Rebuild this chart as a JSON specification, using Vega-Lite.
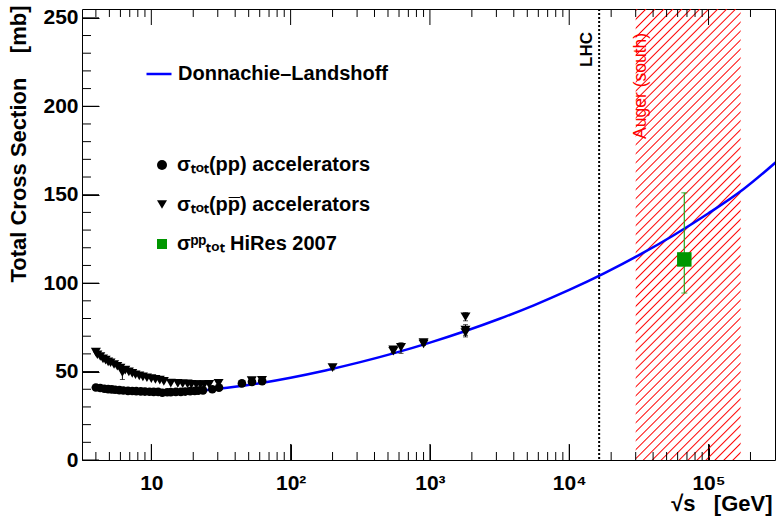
{
  "$schema": "https://vega.github.io/schema/vega-lite/v6.json",
  "width": 693,
  "height": 451,
  "autosize": {"type": "none"},
  "padding": {"left": 82, "top": 9, "right": 2, "bottom": 57},
  "background": "white",
  "config": {
    "font": "Liberation Sans",
    "view": {"stroke": "black", "strokeWidth": 1},
    "axis": {
      "grid": false, "domain": false, "ticks": true, "tickColor": "black", "tickWidth": 1, "tickOpacity": 1,
      "labelColor": "black", "titleColor": "black", "labelFont": "Liberation Sans", "titleFont": "Liberation Sans",
      "labelFontWeight": "bold", "titleFontWeight": "bold", "labelFontSize": 21, "titleFontSize": 22,
      "labelOverlap": false, "labelFlush": false, "labelBound": false, "zindex": 1
    }
  },
  "datasets": {
    "points": [
      {"s": 4.0, "sigma": 41.0, "series": "pp"}, {"s": 4.3, "sigma": 40.7, "series": "pp"}, {"s": 4.6, "sigma": 40.3, "series": "pp"},
      {"s": 4.9, "sigma": 40.1, "series": "pp"}, {"s": 5.2, "sigma": 39.9, "series": "pp"}, {"s": 5.5, "sigma": 39.7, "series": "pp"},
      {"s": 5.9, "sigma": 39.5, "series": "pp"}, {"s": 6.3, "sigma": 39.3, "series": "pp"}, {"s": 6.8, "sigma": 39.1, "series": "pp"},
      {"s": 7.3, "sigma": 39.0, "series": "pp"}, {"s": 7.8, "sigma": 38.9, "series": "pp"}, {"s": 8.4, "sigma": 38.8, "series": "pp"},
      {"s": 9.0, "sigma": 38.7, "series": "pp"}, {"s": 9.7, "sigma": 38.6, "series": "pp"}, {"s": 10.4, "sigma": 38.5, "series": "pp"},
      {"s": 11.2, "sigma": 38.5, "series": "pp"}, {"s": 12.0, "sigma": 38.0, "series": "pp"}, {"s": 13.0, "sigma": 38.3, "series": "pp"},
      {"s": 13.8, "sigma": 38.4, "series": "pp"}, {"s": 15.0, "sigma": 38.5, "series": "pp"}, {"s": 16.3, "sigma": 38.5, "series": "pp"},
      {"s": 17.5, "sigma": 38.7, "series": "pp"}, {"s": 19.0, "sigma": 38.9, "series": "pp"}, {"s": 20.5, "sigma": 39.1, "series": "pp"},
      {"s": 21.7, "sigma": 39.2, "series": "pp"}, {"s": 23.5, "sigma": 39.4, "series": "pp"}, {"s": 27.4, "sigma": 40.0, "series": "pp"},
      {"s": 30.6, "sigma": 40.9, "series": "pp"}, {"s": 44.7, "sigma": 43.3, "series": "pp"}, {"s": 52.8, "sigma": 44.2, "series": "pp"},
      {"s": 62.5, "sigma": 44.6, "series": "pp"},
      {"s": 4.0, "sigma": 61.0, "series": "pbar"}, {"s": 4.1, "sigma": 59.5, "series": "pbar"}, {"s": 4.3, "sigma": 58.5, "series": "pbar"},
      {"s": 4.5, "sigma": 57.2, "series": "pbar"}, {"s": 4.7, "sigma": 56.5, "series": "pbar"}, {"s": 4.9, "sigma": 55.5, "series": "pbar"},
      {"s": 5.1, "sigma": 55.0, "series": "pbar"}, {"s": 5.4, "sigma": 54.0, "series": "pbar"}, {"s": 5.7, "sigma": 53.0, "series": "pbar"},
      {"s": 6.0, "sigma": 52.0, "series": "pbar"}, {"s": 6.2, "sigma": 49.5, "lo": 45.5, "hi": 52.0, "series": "pbar"},
      {"s": 6.5, "sigma": 50.8, "series": "pbar"}, {"s": 6.9, "sigma": 49.8, "series": "pbar"}, {"s": 7.3, "sigma": 49.0, "series": "pbar"},
      {"s": 7.7, "sigma": 48.2, "series": "pbar"}, {"s": 8.2, "sigma": 47.6, "series": "pbar"}, {"s": 8.7, "sigma": 47.0, "series": "pbar"},
      {"s": 9.3, "sigma": 46.5, "series": "pbar"}, {"s": 10.0, "sigma": 46.0, "series": "pbar"}, {"s": 10.7, "sigma": 45.6, "series": "pbar"},
      {"s": 11.5, "sigma": 45.2, "series": "pbar"}, {"s": 12.3, "sigma": 44.5, "series": "pbar"}, {"s": 13.8, "sigma": 43.5, "series": "pbar"},
      {"s": 15.5, "sigma": 43.3, "series": "pbar"}, {"s": 16.8, "sigma": 43.1, "series": "pbar"}, {"s": 18.2, "sigma": 43.0, "series": "pbar"},
      {"s": 19.4, "sigma": 42.8, "series": "pbar"}, {"s": 21.0, "sigma": 42.7, "series": "pbar"}, {"s": 22.5, "sigma": 42.6, "series": "pbar"},
      {"s": 24.0, "sigma": 42.6, "series": "pbar"}, {"s": 26.0, "sigma": 42.8, "series": "pbar"}, {"s": 30.4, "sigma": 43.4, "series": "pbar"},
      {"s": 52.6, "sigma": 44.9, "series": "pbar"}, {"s": 62.3, "sigma": 45.1, "series": "pbar"},
      {"s": 200, "sigma": 52.2, "lo": 51.0, "hi": 53.4, "series": "pbar"},
      {"s": 546, "sigma": 62.3, "lo": 60.8, "hi": 63.8, "series": "pbar"},
      {"s": 546, "sigma": 61.5, "lo": 60.5, "hi": 62.5, "series": "pbar"},
      {"s": 620, "sigma": 63.7, "lo": 60.3, "hi": 66.3, "series": "pbar"},
      {"s": 900, "sigma": 66.4, "lo": 65.0, "hi": 67.8, "series": "pbar"},
      {"s": 900, "sigma": 65.6, "lo": 64.9, "hi": 66.3, "series": "pbar"},
      {"s": 1800, "sigma": 81.0, "lo": 78.7, "hi": 83.3, "series": "pbar"},
      {"s": 1800, "sigma": 73.5, "lo": 70.5, "hi": 76.5, "series": "pbar"},
      {"s": 1800, "sigma": 72.0, "lo": 69.6, "hi": 74.4, "series": "pbar"},
      {"s": 67000, "sigma": 113.4, "lo": 94.4, "hi": 151.1, "series": "hires"}
    ],
    "dl": [
      {"s": 10, "sigma": 38.46, "model": "DL"}, {"s": 15.85, "sigma": 38.51, "model": "DL"}, {"s": 25.12, "sigma": 39.57, "model": "DL"},
      {"s": 39.81, "sigma": 41.36, "model": "DL"}, {"s": 63.1, "sigma": 43.72, "model": "DL"}, {"s": 100, "sigma": 46.55, "model": "DL"},
      {"s": 177.8, "sigma": 50.64, "model": "DL"}, {"s": 316.2, "sigma": 55.32, "model": "DL"}, {"s": 562.3, "sigma": 60.56, "model": "DL"},
      {"s": 1000, "sigma": 66.37, "model": "DL"}, {"s": 1778, "sigma": 72.78, "model": "DL"}, {"s": 3162, "sigma": 79.86, "model": "DL"},
      {"s": 5623, "sigma": 87.61, "model": "DL"}, {"s": 10000, "sigma": 96.14, "model": "DL"}, {"s": 17783, "sigma": 105.5, "model": "DL"},
      {"s": 31623, "sigma": 115.8, "model": "DL"}, {"s": 56234, "sigma": 127.1, "model": "DL"}, {"s": 100000, "sigma": 139.5, "model": "DL"},
      {"s": 177828, "sigma": 153.1, "model": "DL"}, {"s": 316228, "sigma": 169.5, "model": "DL"}
    ]
  },
  "layer": [
    {
      "data": {"values": [{"s0": 30000, "s1": 170000}]},
      "mark": {
        "type": "rect",
        "fill": {
          "gradient": "linear", "x1": 0, "y1": 0, "x2": 0.272, "y2": 1.1693,
          "stops": [
            {"offset": 0, "color": "rgba(255,0,0,0)"}, {"offset": 0.0025, "color": "#ff0000"}, {"offset": 0.005, "color": "rgba(255,0,0,0)"},
            {"offset": 0.0161, "color": "rgba(255,0,0,0)"}, {"offset": 0.0186, "color": "#ff0000"}, {"offset": 0.0211, "color": "rgba(255,0,0,0)"},
            {"offset": 0.0323, "color": "rgba(255,0,0,0)"}, {"offset": 0.0348, "color": "#ff0000"}, {"offset": 0.0373, "color": "rgba(255,0,0,0)"},
            {"offset": 0.0484, "color": "rgba(255,0,0,0)"}, {"offset": 0.0509, "color": "#ff0000"}, {"offset": 0.0534, "color": "rgba(255,0,0,0)"},
            {"offset": 0.0645, "color": "rgba(255,0,0,0)"}, {"offset": 0.067, "color": "#ff0000"}, {"offset": 0.0695, "color": "rgba(255,0,0,0)"},
            {"offset": 0.0806, "color": "rgba(255,0,0,0)"}, {"offset": 0.0831, "color": "#ff0000"}, {"offset": 0.0856, "color": "rgba(255,0,0,0)"},
            {"offset": 0.0968, "color": "rgba(255,0,0,0)"}, {"offset": 0.0993, "color": "#ff0000"}, {"offset": 0.1018, "color": "rgba(255,0,0,0)"},
            {"offset": 0.1129, "color": "rgba(255,0,0,0)"}, {"offset": 0.1154, "color": "#ff0000"}, {"offset": 0.1179, "color": "rgba(255,0,0,0)"},
            {"offset": 0.129, "color": "rgba(255,0,0,0)"}, {"offset": 0.1315, "color": "#ff0000"}, {"offset": 0.134, "color": "rgba(255,0,0,0)"},
            {"offset": 0.1452, "color": "rgba(255,0,0,0)"}, {"offset": 0.1477, "color": "#ff0000"}, {"offset": 0.1502, "color": "rgba(255,0,0,0)"},
            {"offset": 0.1613, "color": "rgba(255,0,0,0)"}, {"offset": 0.1638, "color": "#ff0000"}, {"offset": 0.1663, "color": "rgba(255,0,0,0)"},
            {"offset": 0.1774, "color": "rgba(255,0,0,0)"}, {"offset": 0.1799, "color": "#ff0000"}, {"offset": 0.1824, "color": "rgba(255,0,0,0)"},
            {"offset": 0.1935, "color": "rgba(255,0,0,0)"}, {"offset": 0.196, "color": "#ff0000"}, {"offset": 0.1985, "color": "rgba(255,0,0,0)"},
            {"offset": 0.2097, "color": "rgba(255,0,0,0)"}, {"offset": 0.2122, "color": "#ff0000"}, {"offset": 0.2147, "color": "rgba(255,0,0,0)"},
            {"offset": 0.2258, "color": "rgba(255,0,0,0)"}, {"offset": 0.2283, "color": "#ff0000"}, {"offset": 0.2308, "color": "rgba(255,0,0,0)"},
            {"offset": 0.2419, "color": "rgba(255,0,0,0)"}, {"offset": 0.2444, "color": "#ff0000"}, {"offset": 0.2469, "color": "rgba(255,0,0,0)"},
            {"offset": 0.2581, "color": "rgba(255,0,0,0)"}, {"offset": 0.2606, "color": "#ff0000"}, {"offset": 0.2631, "color": "rgba(255,0,0,0)"},
            {"offset": 0.2742, "color": "rgba(255,0,0,0)"}, {"offset": 0.2767, "color": "#ff0000"}, {"offset": 0.2792, "color": "rgba(255,0,0,0)"},
            {"offset": 0.2903, "color": "rgba(255,0,0,0)"}, {"offset": 0.2928, "color": "#ff0000"}, {"offset": 0.2953, "color": "rgba(255,0,0,0)"},
            {"offset": 0.3065, "color": "rgba(255,0,0,0)"}, {"offset": 0.309, "color": "#ff0000"}, {"offset": 0.3115, "color": "rgba(255,0,0,0)"},
            {"offset": 0.3226, "color": "rgba(255,0,0,0)"}, {"offset": 0.3251, "color": "#ff0000"}, {"offset": 0.3276, "color": "rgba(255,0,0,0)"},
            {"offset": 0.3387, "color": "rgba(255,0,0,0)"}, {"offset": 0.3412, "color": "#ff0000"}, {"offset": 0.3437, "color": "rgba(255,0,0,0)"},
            {"offset": 0.3548, "color": "rgba(255,0,0,0)"}, {"offset": 0.3573, "color": "#ff0000"}, {"offset": 0.3598, "color": "rgba(255,0,0,0)"},
            {"offset": 0.371, "color": "rgba(255,0,0,0)"}, {"offset": 0.3735, "color": "#ff0000"}, {"offset": 0.376, "color": "rgba(255,0,0,0)"},
            {"offset": 0.3871, "color": "rgba(255,0,0,0)"}, {"offset": 0.3896, "color": "#ff0000"}, {"offset": 0.3921, "color": "rgba(255,0,0,0)"},
            {"offset": 0.4032, "color": "rgba(255,0,0,0)"}, {"offset": 0.4057, "color": "#ff0000"}, {"offset": 0.4082, "color": "rgba(255,0,0,0)"},
            {"offset": 0.4194, "color": "rgba(255,0,0,0)"}, {"offset": 0.4219, "color": "#ff0000"}, {"offset": 0.4244, "color": "rgba(255,0,0,0)"},
            {"offset": 0.4355, "color": "rgba(255,0,0,0)"}, {"offset": 0.438, "color": "#ff0000"}, {"offset": 0.4405, "color": "rgba(255,0,0,0)"},
            {"offset": 0.4516, "color": "rgba(255,0,0,0)"}, {"offset": 0.4541, "color": "#ff0000"}, {"offset": 0.4566, "color": "rgba(255,0,0,0)"},
            {"offset": 0.4677, "color": "rgba(255,0,0,0)"}, {"offset": 0.4702, "color": "#ff0000"}, {"offset": 0.4727, "color": "rgba(255,0,0,0)"},
            {"offset": 0.4839, "color": "rgba(255,0,0,0)"}, {"offset": 0.4864, "color": "#ff0000"}, {"offset": 0.4889, "color": "rgba(255,0,0,0)"},
            {"offset": 0.5, "color": "rgba(255,0,0,0)"}, {"offset": 0.5025, "color": "#ff0000"}, {"offset": 0.505, "color": "rgba(255,0,0,0)"},
            {"offset": 0.5161, "color": "rgba(255,0,0,0)"}, {"offset": 0.5186, "color": "#ff0000"}, {"offset": 0.5211, "color": "rgba(255,0,0,0)"},
            {"offset": 0.5323, "color": "rgba(255,0,0,0)"}, {"offset": 0.5348, "color": "#ff0000"}, {"offset": 0.5373, "color": "rgba(255,0,0,0)"},
            {"offset": 0.5484, "color": "rgba(255,0,0,0)"}, {"offset": 0.5509, "color": "#ff0000"}, {"offset": 0.5534, "color": "rgba(255,0,0,0)"},
            {"offset": 0.5645, "color": "rgba(255,0,0,0)"}, {"offset": 0.567, "color": "#ff0000"}, {"offset": 0.5695, "color": "rgba(255,0,0,0)"},
            {"offset": 0.5806, "color": "rgba(255,0,0,0)"}, {"offset": 0.5831, "color": "#ff0000"}, {"offset": 0.5856, "color": "rgba(255,0,0,0)"},
            {"offset": 0.5968, "color": "rgba(255,0,0,0)"}, {"offset": 0.5993, "color": "#ff0000"}, {"offset": 0.6018, "color": "rgba(255,0,0,0)"},
            {"offset": 0.6129, "color": "rgba(255,0,0,0)"}, {"offset": 0.6154, "color": "#ff0000"}, {"offset": 0.6179, "color": "rgba(255,0,0,0)"},
            {"offset": 0.629, "color": "rgba(255,0,0,0)"}, {"offset": 0.6315, "color": "#ff0000"}, {"offset": 0.634, "color": "rgba(255,0,0,0)"},
            {"offset": 0.6452, "color": "rgba(255,0,0,0)"}, {"offset": 0.6477, "color": "#ff0000"}, {"offset": 0.6502, "color": "rgba(255,0,0,0)"},
            {"offset": 0.6613, "color": "rgba(255,0,0,0)"}, {"offset": 0.6638, "color": "#ff0000"}, {"offset": 0.6663, "color": "rgba(255,0,0,0)"},
            {"offset": 0.6774, "color": "rgba(255,0,0,0)"}, {"offset": 0.6799, "color": "#ff0000"}, {"offset": 0.6824, "color": "rgba(255,0,0,0)"},
            {"offset": 0.6935, "color": "rgba(255,0,0,0)"}, {"offset": 0.696, "color": "#ff0000"}, {"offset": 0.6985, "color": "rgba(255,0,0,0)"},
            {"offset": 0.7097, "color": "rgba(255,0,0,0)"}, {"offset": 0.7122, "color": "#ff0000"}, {"offset": 0.7147, "color": "rgba(255,0,0,0)"},
            {"offset": 0.7258, "color": "rgba(255,0,0,0)"}, {"offset": 0.7283, "color": "#ff0000"}, {"offset": 0.7308, "color": "rgba(255,0,0,0)"},
            {"offset": 0.7419, "color": "rgba(255,0,0,0)"}, {"offset": 0.7444, "color": "#ff0000"}, {"offset": 0.7469, "color": "rgba(255,0,0,0)"},
            {"offset": 0.7581, "color": "rgba(255,0,0,0)"}, {"offset": 0.7606, "color": "#ff0000"}, {"offset": 0.7631, "color": "rgba(255,0,0,0)"},
            {"offset": 0.7742, "color": "rgba(255,0,0,0)"}, {"offset": 0.7767, "color": "#ff0000"}, {"offset": 0.7792, "color": "rgba(255,0,0,0)"},
            {"offset": 0.7903, "color": "rgba(255,0,0,0)"}, {"offset": 0.7928, "color": "#ff0000"}, {"offset": 0.7953, "color": "rgba(255,0,0,0)"},
            {"offset": 0.8065, "color": "rgba(255,0,0,0)"}, {"offset": 0.809, "color": "#ff0000"}, {"offset": 0.8115, "color": "rgba(255,0,0,0)"},
            {"offset": 0.8226, "color": "rgba(255,0,0,0)"}, {"offset": 0.8251, "color": "#ff0000"}, {"offset": 0.8276, "color": "rgba(255,0,0,0)"},
            {"offset": 0.8387, "color": "rgba(255,0,0,0)"}, {"offset": 0.8412, "color": "#ff0000"}, {"offset": 0.8437, "color": "rgba(255,0,0,0)"},
            {"offset": 0.8548, "color": "rgba(255,0,0,0)"}, {"offset": 0.8573, "color": "#ff0000"}, {"offset": 0.8598, "color": "rgba(255,0,0,0)"},
            {"offset": 0.871, "color": "rgba(255,0,0,0)"}, {"offset": 0.8735, "color": "#ff0000"}, {"offset": 0.876, "color": "rgba(255,0,0,0)"},
            {"offset": 0.8871, "color": "rgba(255,0,0,0)"}, {"offset": 0.8896, "color": "#ff0000"}, {"offset": 0.8921, "color": "rgba(255,0,0,0)"},
            {"offset": 0.9032, "color": "rgba(255,0,0,0)"}, {"offset": 0.9057, "color": "#ff0000"}, {"offset": 0.9082, "color": "rgba(255,0,0,0)"},
            {"offset": 0.9194, "color": "rgba(255,0,0,0)"}, {"offset": 0.9219, "color": "#ff0000"}, {"offset": 0.9244, "color": "rgba(255,0,0,0)"},
            {"offset": 0.9355, "color": "rgba(255,0,0,0)"}, {"offset": 0.938, "color": "#ff0000"}, {"offset": 0.9405, "color": "rgba(255,0,0,0)"},
            {"offset": 0.9516, "color": "rgba(255,0,0,0)"}, {"offset": 0.9541, "color": "#ff0000"}, {"offset": 0.9566, "color": "rgba(255,0,0,0)"},
            {"offset": 0.9677, "color": "rgba(255,0,0,0)"}, {"offset": 0.9702, "color": "#ff0000"}, {"offset": 0.9727, "color": "rgba(255,0,0,0)"},
            {"offset": 0.9839, "color": "rgba(255,0,0,0)"}, {"offset": 0.9864, "color": "#ff0000"}, {"offset": 0.9889, "color": "rgba(255,0,0,0)"}
          ]
        }
      },
      "encoding": {
        "x": {
          "field": "s0", "type": "quantitative",
          "scale": {"type": "log", "domain": [3.18, 300000], "nice": false},
          "axis": {
            "orient": "bottom", "offset": -16, "tickSize": 16,
            "values": [10, 100, 1000, 10000, 100000],
            "labelExpr": "datum.value === 10 ? '10' : datum.value === 100 ? '10²' : datum.value === 1000 ? '10³' : datum.value === 10000 ? '10⁴' : '10⁵'",
            "labelPadding": 12,
            "title": "√s\u00a0\u00a0\u00a0[GeV]",
            "titleAnchor": "end", "titleAlign": "right", "titleBaseline": "middle",
            "titleX": 690, "titleY": 59
          }
        },
        "x2": {"field": "s1"},
        "y": {"datum": 0, "type": "quantitative", "scale": {"domain": [0, 255], "nice": false}, "axis": null},
        "y2": {"datum": 255}
      }
    },
    {
      "data": {"values": [{"v": 10}, {"v": 100}, {"v": 1000}, {"v": 10000}, {"v": 100000}]},
      "mark": {"type": "rule", "color": "black", "strokeWidth": 1},
      "encoding": {
        "x": {"field": "v", "type": "quantitative", "axis": null},
        "y": {"datum": 0, "type": "quantitative", "axis": null},
        "y2": {"datum": 9.05}
      }
    },
    {
      "data": {"values": [{"v": 10}, {"v": 100}, {"v": 1000}, {"v": 10000}, {"v": 100000}]},
      "mark": {"type": "rule", "color": "black", "strokeWidth": 1},
      "encoding": {
        "x": {"field": "v", "type": "quantitative", "axis": null},
        "y": {"datum": 255, "type": "quantitative", "axis": null},
        "y2": {"datum": 245.95}
      }
    },
    {
      "data": {"values": [
        {"v": 4}, {"v": 5}, {"v": 6}, {"v": 7}, {"v": 8}, {"v": 9},
        {"v": 20}, {"v": 30}, {"v": 40}, {"v": 50}, {"v": 60}, {"v": 70}, {"v": 80}, {"v": 90},
        {"v": 200}, {"v": 300}, {"v": 400}, {"v": 500}, {"v": 600}, {"v": 700}, {"v": 800}, {"v": 900},
        {"v": 2000}, {"v": 3000}, {"v": 4000}, {"v": 5000}, {"v": 6000}, {"v": 7000}, {"v": 8000}, {"v": 9000},
        {"v": 20000}, {"v": 30000}, {"v": 40000}, {"v": 50000}, {"v": 60000}, {"v": 70000}, {"v": 80000}, {"v": 90000},
        {"v": 200000}
      ]},
      "mark": {"type": "rule", "color": "black", "strokeWidth": 1},
      "encoding": {
        "x": {"field": "v", "type": "quantitative", "axis": null},
        "y": {"datum": 0, "type": "quantitative", "axis": null},
        "y2": {"datum": 4.52}
      }
    },
    {
      "data": {"values": [
        {"v": 4}, {"v": 5}, {"v": 6}, {"v": 7}, {"v": 8}, {"v": 9},
        {"v": 20}, {"v": 30}, {"v": 40}, {"v": 50}, {"v": 60}, {"v": 70}, {"v": 80}, {"v": 90},
        {"v": 200}, {"v": 300}, {"v": 400}, {"v": 500}, {"v": 600}, {"v": 700}, {"v": 800}, {"v": 900},
        {"v": 2000}, {"v": 3000}, {"v": 4000}, {"v": 5000}, {"v": 6000}, {"v": 7000}, {"v": 8000}, {"v": 9000},
        {"v": 20000}, {"v": 30000}, {"v": 40000}, {"v": 50000}, {"v": 60000}, {"v": 70000}, {"v": 80000}, {"v": 90000},
        {"v": 200000}
      ]},
      "mark": {"type": "rule", "color": "black", "strokeWidth": 1},
      "encoding": {
        "x": {"field": "v", "type": "quantitative", "axis": null},
        "y": {"datum": 255, "type": "quantitative", "axis": null},
        "y2": {"datum": 250.48}
      }
    },
    {
      "data": {"values": [{"w": 0}, {"w": 50}, {"w": 100}, {"w": 150}, {"w": 200}, {"w": 250}]},
      "mark": {"type": "rule", "color": "black", "strokeWidth": 1},
      "encoding": {
        "y": {"field": "w", "type": "quantitative", "axis": null},
        "x": {"datum": 3.18, "type": "quantitative", "axis": null},
        "x2": {"datum": 4.212}
      }
    },
    {
      "data": {"values": [
        {"w": 10}, {"w": 20}, {"w": 30}, {"w": 40}, {"w": 60}, {"w": 70}, {"w": 80}, {"w": 90},
        {"w": 110}, {"w": 120}, {"w": 130}, {"w": 140}, {"w": 160}, {"w": 170}, {"w": 180}, {"w": 190},
        {"w": 210}, {"w": 220}, {"w": 230}, {"w": 240}
      ]},
      "mark": {"type": "rule", "color": "black", "strokeWidth": 1},
      "encoding": {
        "y": {"field": "w", "type": "quantitative", "axis": null},
        "x": {"datum": 3.18, "type": "quantitative", "axis": null},
        "x2": {"datum": 3.69}
      }
    },
    {
      "data": {"values": [{"s": 16400}]},
      "mark": {"type": "rule", "color": "black", "strokeWidth": 2, "strokeDash": [2, 2]},
      "encoding": {
        "x": {"field": "s", "type": "quantitative", "axis": null}
      }
    },
    {
      "data": {"values": [{"s": 16400, "label": "LHC"}]},
      "mark": {"type": "text", "angle": 270, "align": "right", "baseline": "middle", "dy": -12, "font": "Liberation Sans", "fontSize": 17, "fontWeight": "bold", "color": "black"},
      "encoding": {
        "x": {"field": "s", "type": "quantitative", "axis": null},
        "y": {"datum": 242, "type": "quantitative", "axis": null},
        "text": {"field": "label"}
      }
    },
    {
      "data": {"values": [{"s": 30000, "label": "Auger (south)"}]},
      "mark": {"type": "text", "angle": 270, "align": "right", "baseline": "middle", "dy": 5, "font": "Liberation Sans", "fontSize": 17.5, "color": "#ff0000"},
      "encoding": {
        "x": {"field": "s", "type": "quantitative", "axis": null},
        "y": {"datum": 241.5, "type": "quantitative", "axis": null},
        "text": {"field": "label"}
      }
    },
    {
      "data": {"name": "dl"},
      "mark": {"type": "line", "strokeWidth": 2.5, "interpolate": "monotone", "clip": true},
      "encoding": {
        "x": {"field": "s", "type": "quantitative", "axis": null},
        "y": {
          "field": "sigma", "type": "quantitative",
          "axis": {
            "orient": "left", "offset": -17, "tickSize": 17,
            "values": [0, 50, 100, 150, 200, 250], "labelPadding": 4,
            "title": "Total Cross Section\u00a0\u00a0\u00a0\u00a0[mb]",
            "titleAnchor": "end", "titleAlign": "right", "titleAngle": -90, "titleBaseline": "middle",
            "titleX": -81, "titleY": -4
          }
        },
        "stroke": {
          "field": "model", "type": "nominal",
          "scale": {"domain": ["DL"], "range": ["#0000ff"]},
          "legend": {
            "orient": "none", "legendX": 63, "legendY": 51, "title": null, "padding": 0,
            "labelExpr": "'Donnachie–Landshoff'", "labelFont": "Liberation Sans", "labelFontSize": 20, "labelFontWeight": "bold",
            "labelColor": "black", "labelLimit": 500, "labelOffset": 5, "symbolSize": 625, "symbolStrokeWidth": 2.5
          }
        }
      }
    },
    {
      "data": {"name": "points"},
      "transform": [{"filter": "datum.series !== 'hires' && isValid(datum.lo)"}],
      "mark": {"type": "errorbar", "color": "black", "thickness": 1, "ticks": {"size": 5}},
      "encoding": {
        "x": {"field": "s", "type": "quantitative", "axis": null},
        "y": {"field": "lo", "type": "quantitative", "axis": null},
        "y2": {"field": "hi"}
      }
    },
    {
      "data": {"name": "points"},
      "transform": [{"filter": "datum.series === 'hires'"}],
      "mark": {"type": "errorbar", "color": "#22aa22", "thickness": 1.2, "ticks": {"size": 6}},
      "encoding": {
        "x": {"field": "s", "type": "quantitative", "axis": null},
        "y": {"field": "lo", "type": "quantitative", "axis": null},
        "y2": {"field": "hi"}
      }
    },
    {
      "data": {"name": "points"},
      "mark": {"type": "point", "filled": true, "opacity": 1},
      "encoding": {
        "x": {"field": "s", "type": "quantitative", "axis": null},
        "y": {"field": "sigma", "type": "quantitative", "axis": null},
        "size": {
          "condition": [
            {"test": "datum.series === 'hires'", "value": 210},
            {"test": "datum.series === 'pbar'", "value": 100}
          ],
          "value": 75
        },
        "shape": {
          "field": "series", "type": "nominal",
          "scale": {"domain": ["pp", "pbar", "hires"], "range": ["circle", "triangle-down", "square"]},
          "legend": {
            "orient": "none", "legendX": 70, "legendY": 146, "title": null, "padding": 0, "rowPadding": 19.5,
            "labelExpr": "datum.value === 'pp' ? 'σₜₒₜ(pp) accelerators' : datum.value === 'pbar' ? 'σₜₒₜ(pp̅) accelerators' : 'σᵖᵖₜₒₜ HiRes 2007'",
            "labelFont": "Liberation Sans", "labelFontSize": 20, "labelFontWeight": "bold", "labelColor": "black",
            "labelLimit": 500, "labelOffset": 5, "symbolSize": 100, "symbolOpacity": 1
          }
        },
        "color": {
          "field": "series", "type": "nominal",
          "scale": {"domain": ["pp", "pbar", "hires"], "range": ["black", "black", "#009600"]},
          "legend": {
            "orient": "none", "legendX": 70, "legendY": 146, "title": null, "padding": 0, "rowPadding": 19.5,
            "labelExpr": "datum.value === 'pp' ? 'σₜₒₜ(pp) accelerators' : datum.value === 'pbar' ? 'σₜₒₜ(pp̅) accelerators' : 'σᵖᵖₜₒₜ HiRes 2007'",
            "labelFont": "Liberation Sans", "labelFontSize": 20, "labelFontWeight": "bold", "labelColor": "black",
            "labelLimit": 500, "labelOffset": 5, "symbolSize": 100, "symbolOpacity": 1
          }
        }
      }
    }
  ],
  "resolve": {"axis": {"x": "independent", "y": "independent"}}
}
